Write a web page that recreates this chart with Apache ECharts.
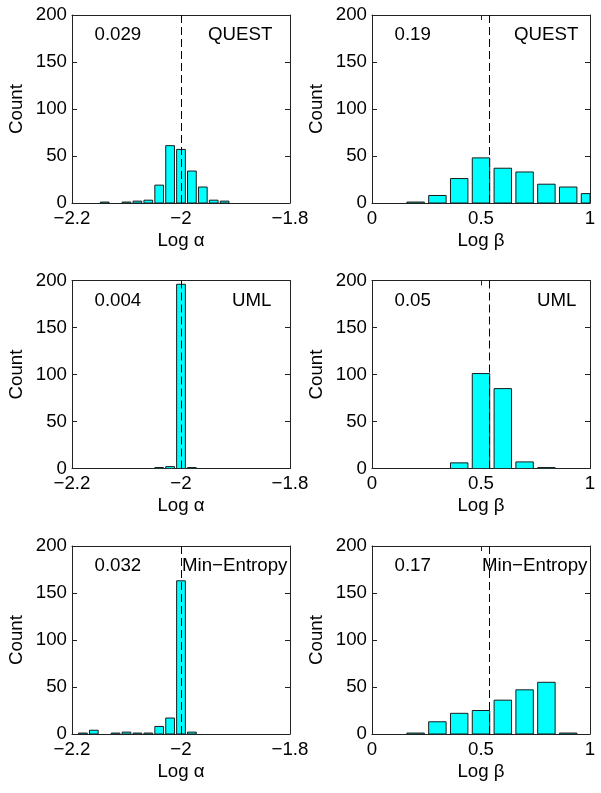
<!DOCTYPE html>
<html>
<head>
<meta charset="utf-8">
<script src="https://cdn.jsdelivr.net/npm/echarts@6/dist/echarts.min.js"></script>
<style>
html,body{margin:0;padding:0;background:#fff;}
#chart{width:601px;height:793px;}
</style>
</head>
<body>
<div id="chart"></div>
<script>
// ---- data ----
const countTicks = [0, 50, 100, 150, 200];
const alphaTicks = [-2.2, -2, -1.8];
const betaTicks = [0, 0.5, 1];
const trueLogAlpha = -2.0;
const trueLogBeta = 0.54;
const alphaBin = 0.02;
const betaBin = 0.1;

const questAlphaX = [-2.14, -2.10, -2.08, -2.06, -2.04, -2.02, -2.00, -1.98, -1.96, -1.94, -1.92];
const questAlphaN = [1, 1, 2, 3, 19, 61, 57, 34, 17, 3, 2];
const questBetaX = [0.2, 0.3, 0.4, 0.5, 0.6, 0.7, 0.8, 0.9, 1.0];
const questBetaN = [1, 8, 26, 48, 37, 33, 20, 17, 10];

const umlAlphaX = [-2.04, -2.02, -2.00, -1.98];
const umlAlphaN = [1, 2, 196, 1];
const umlBetaX = [0.4, 0.5, 0.6, 0.7, 0.8];
const umlBetaN = [6, 101, 85, 7, 1];

const minEntAlphaX = [-2.18, -2.16, -2.12, -2.10, -2.08, -2.06, -2.04, -2.02, -2.00, -1.98];
const minEntAlphaN = [1, 4, 1, 2, 1, 1, 8, 17, 163, 2];
const minEntBetaX = [0.2, 0.3, 0.4, 0.5, 0.6, 0.7, 0.8, 0.9];
const minEntBetaN = [1, 13, 22, 25, 36, 47, 55, 1];

const panelNumbers = ['0.029', '0.19', '0.004', '0.05', '0.032', '0.17'];
const panelMethods = ['QUEST', 'QUEST', 'UML', 'UML', 'Min\u2212Entropy', 'Min\u2212Entropy'];

// ---- layout ----
const FONT = 'Liberation Sans, Arial, Helvetica, sans-serif';
const FS = 18.7;
const gridW = 218, gridH = 188;
const lefts = [72, 372];
const tops = [15, 280.5, 546];
const methodOffsets = [136, 142, 160, 165, 110, 110];

const panels = [
  {x: questAlphaX, n: questAlphaN, kind: 'a'},
  {x: questBetaX, n: questBetaN, kind: 'b'},
  {x: umlAlphaX, n: umlAlphaN, kind: 'a'},
  {x: umlBetaX, n: umlBetaN, kind: 'b'},
  {x: minEntAlphaX, n: minEntAlphaN, kind: 'a'},
  {x: minEntBetaX, n: minEntBetaN, kind: 'b'}
];

const fmt = v => String(+(+v).toFixed(2)).replace('-', '\u2212');
const axisColor = '#222';

function makeRender(half) {
  return function (params, api) {
    const x = api.value(0), n = api.value(1);
    const p0 = api.coord([x - half, n]);
    const p1 = api.coord([x + half, 0]);
    const cs = params.coordSys;
    const rect = echarts.graphic.clipRectByRect(
      {x: p0[0], y: p0[1], width: p1[0] - p0[0], height: p1[1] - p0[1]},
      {x: cs.x, y: cs.y, width: cs.width, height: cs.height}
    );
    if (!rect) return null;
    return {
      type: 'rect', shape: rect,
      style: {fill: '#00ffff', stroke: '#1a1a1a', lineWidth: 1}
    };
  };
}

const grids = [], xAxes = [], yAxes = [], series = [], graphics = [];
panels.forEach((p, i) => {
  const col = i % 2, row = Math.floor(i / 2);
  const L = lefts[col], T = tops[row];
  grids.push({left: L, top: T, width: gridW, height: gridH, containLabel: false});
  const ticks = p.kind === 'a' ? alphaTicks : betaTicks;
  const xmin = ticks[0], xmax = ticks[ticks.length - 1];
  const xint = ticks[1] - ticks[0];
  const xname = p.kind === 'a' ? 'Log \u03b1' : 'Log \u03b2';
  const baseX = {
    type: 'value', gridIndex: i, min: xmin, max: xmax, interval: xint,
    splitLine: {show: false},
    axisLine: {show: true, onZero: false, lineStyle: {color: axisColor, width: 1}},
    axisTick: {show: true, inside: true, length: 5, lineStyle: {color: axisColor}}
  };
  xAxes.push(Object.assign({}, baseX, {
    position: 'bottom',
    name: xname, nameLocation: 'middle', nameGap: 28,
    nameTextStyle: {fontFamily: FONT, fontSize: FS, color: '#000'},
    axisLabel: {show: true, margin: 6, fontFamily: FONT, fontSize: FS, color: '#000',
      showMinLabel: true, showMaxLabel: true, formatter: fmt}
  }));
  xAxes.push(Object.assign({}, baseX, {position: 'top', axisLabel: {show: false}}));
  const baseY = {
    type: 'value', gridIndex: i, min: countTicks[0], max: countTicks[countTicks.length - 1],
    interval: countTicks[1] - countTicks[0],
    splitLine: {show: false},
    axisLine: {show: true, onZero: false, lineStyle: {color: axisColor, width: 1}},
    axisTick: {show: true, inside: true, length: 5, lineStyle: {color: axisColor}}
  };
  yAxes.push(Object.assign({}, baseY, {
    position: 'left',
    name: 'Count', nameLocation: 'middle', nameGap: 46, nameRotate: 90,
    nameTextStyle: {fontFamily: FONT, fontSize: FS, color: '#000'},
    axisLabel: {show: true, margin: 5, fontFamily: FONT, fontSize: FS, color: '#000',
      showMinLabel: true, showMaxLabel: true}
  }));
  yAxes.push(Object.assign({}, baseY, {position: 'right', axisLabel: {show: false}}));

  const bin = p.kind === 'a' ? alphaBin : betaBin;
  const trueVal = p.kind === 'a' ? trueLogAlpha : trueLogBeta;
  series.push({
    type: 'custom',
    xAxisIndex: 2 * i, yAxisIndex: 2 * i,
    data: p.x.map((v, k) => [v, p.n[k]]),
    encode: {x: 0, y: 1},
    renderItem: makeRender(bin * 0.4),
    clip: true,
    animation: false,
    markLine: {
      silent: true, symbol: 'none', animation: false,
      label: {show: false},
      lineStyle: {color: '#000', type: [8, 4], width: 1},
      data: [{xAxis: trueVal}]
    }
  });

  graphics.push({
    type: 'text', x: L + 22.5, y: T + 20,
    style: {text: panelNumbers[i], fontFamily: FONT, fontSize: FS, fill: '#000', verticalAlign: 'middle'}
  });
  graphics.push({
    type: 'text', x: L + methodOffsets[i], y: T + 20,
    style: {text: panelMethods[i], fontFamily: FONT, fontSize: FS, fill: '#000', verticalAlign: 'middle'}
  });
});

const chart = echarts.init(document.getElementById('chart'), null, {renderer: 'canvas'});
chart.setOption({
  backgroundColor: '#fff',
  animation: false,
  grid: grids,
  xAxis: xAxes,
  yAxis: yAxes,
  series: series,
  graphic: graphics
});
</script>
</body>
</html>
